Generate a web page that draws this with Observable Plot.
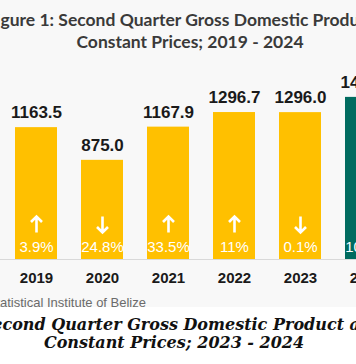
<!DOCTYPE html>
<html>
<head>
<meta charset="utf-8">
<script src="https://cdn.jsdelivr.net/npm/d3@7"></script>
<script src="https://cdn.jsdelivr.net/npm/@observablehq/plot@0.6"></script>
<style>
  html, body { margin: 0; padding: 0; width: 356px; height: 364px; overflow: hidden; background: #ffffff; }
  #fig { position: absolute; left: 0; top: 0; width: 356px; height: 307px; background: #f8f8f8; overflow: hidden; }
  .title { position: absolute; left: 190px; transform: translateX(-50%); white-space: nowrap;
           font-family: Lato, "Open Sans", sans-serif; font-weight: 700; font-size: 17.5px; color: #3a3a3a; line-height: 22px; }
  #chart { position: absolute; left: 0; top: 56px; }
  .source { position: absolute; right: 210px; top: 295px; white-space: nowrap;
            font-family: "Liberation Sans", Arial, sans-serif; font-size: 13px; color: #6b6b6b; line-height: 16px; }
  .caption { position: absolute; left: 174px; transform: translateX(-50%); white-space: nowrap;
             font-family: "DejaVu Serif", serif; font-weight: 700; font-style: italic; font-size: 16px; color: #111; line-height: 18px; }
</style>
</head>
<body>
<div id="fig">
  <div class="title" style="top:9px">Figure 1: Second Quarter Gross Domestic Product at</div>
  <div class="title" style="top:31px">Constant Prices; 2019 - 2024</div>
  <div id="chart"></div>
  <div class="source">Statistical Institute of Belize</div>
</div>
<div class="caption" style="top:316px">Second Quarter Gross Domestic Product at</div>
<div class="caption" style="top:334px">Constant Prices; 2023 - 2024</div>
<script>
const years = ["2019", "2020", "2021", "2022", "2023", "2024"];
const values = [1163.5, 875.0, 1167.9, 1296.7, 1296.0, 1430.4];
const changes = ["3.9%", "24.8%", "33.5%", "11%", "0.1%", "10.4%"];
const directions = ["up", "down", "up", "up", "down", "up"];
const barColors = ["#FFC000", "#FFC000", "#FFC000", "#FFC000", "#FFC000", "#006B5F"];

const data = years.map((year, i) => ({
  year, value: values[i], change: changes[i], dir: directions[i], color: barColors[i]
}));

// open chevron arrow shape for the vector mark
const chevronArrow = {
  draw(context, l) {
    const w = 5.5;
    context.moveTo(0, 0);
    context.lineTo(0, -l);
    context.moveTo(-w, -l + w);
    context.lineTo(0, -l);
    context.lineTo(w, -l + w);
  }
};

const chart = Plot.plot({
  width: 430,
  height: 236,
  marginLeft: 0,
  marginRight: 29,
  marginTop: 33,
  marginBottom: 33,
  style: { background: "transparent", overflow: "visible", maxWidth: "none" },
  x: { domain: years, paddingInner: 0.37, paddingOuter: 0.185, label: null },
  y: { domain: [0, 1500], axis: null },
  marks: [
    Plot.ruleY([0], { stroke: "#d9d9d9", strokeWidth: 1 }),
    Plot.barY(data, { x: "year", y: "value", fill: "color" }),
    Plot.text(data, {
      x: "year", y: "value", text: d => d.value.toFixed(1), dy: -15, lineAnchor: "middle",
      fontSize: 17, fontWeight: "bold", fill: "#1a1a1a", fontFamily: "Liberation Sans, Arial, sans-serif"
    }),
    Plot.vector(data, {
      x: "year", y: 0, dy: -35, length: 16, anchor: "middle", shape: chevronArrow,
      rotate: d => d.dir === "up" ? 0 : 180, stroke: "white", strokeWidth: 2.6,
      strokeLinecap: "butt", strokeLinejoin: "miter"
    }),
    Plot.text(data, {
      x: "year", y: 0, text: "change", dy: -12, lineAnchor: "middle",
      fontSize: 15, fill: "white", fontFamily: "Liberation Sans, Arial, sans-serif"
    }),
    Plot.axisX({
      tickSize: 0, tickPadding: 13, fontSize: 15, fontWeight: "bold", fill: "#1a1a1a",
      fontFamily: "Liberation Sans, Arial, sans-serif", label: null
    })
  ]
});
document.getElementById("chart").appendChild(chart);
</script>
</body>
</html>
